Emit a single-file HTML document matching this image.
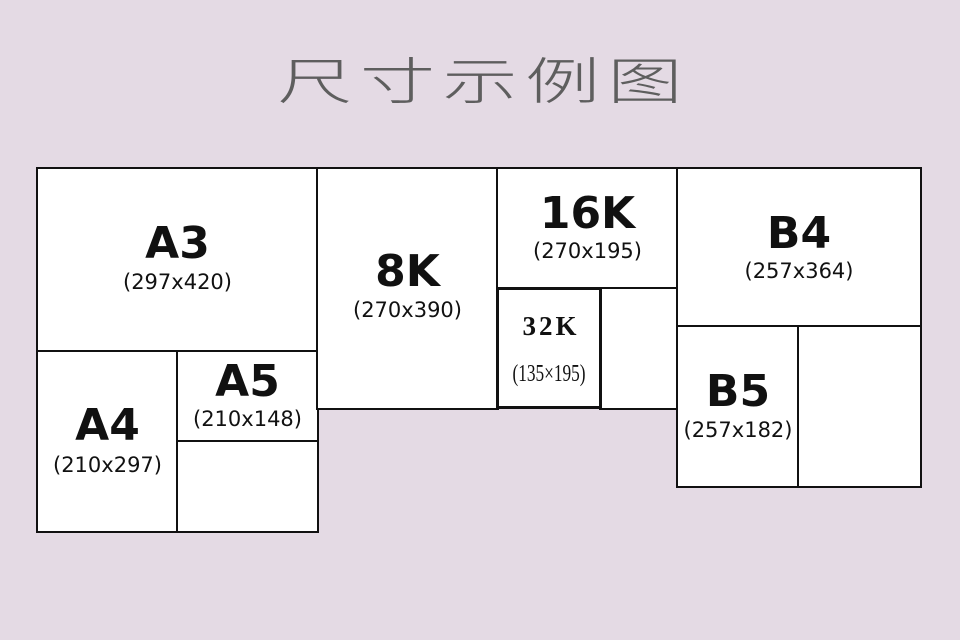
<!DOCTYPE html>
<html><head><meta charset="utf-8"><style>
body{margin:0;width:960px;height:640px;background:#e4dae4;position:relative;overflow:hidden;font-family:"DejaVu Sans","Liberation Sans",sans-serif}
.b{position:absolute;background:#fff;border:2px solid #111;box-sizing:border-box}
.t{position:absolute;text-align:center;color:#111;line-height:1;white-space:nowrap}
.big{font-size:44px;font-weight:bold}
.sm{font-size:21px}
</style></head><body>
<div class="t" style="left:0;width:960px;top:53px;font-family:'Noto Sans CJK SC',sans-serif;font-size:50px;font-weight:300;color:#5e5e5e;letter-spacing:5px;transform:scaleX(1.5);text-indent:5px">尺寸示例图</div>

<div class="b" style="left:36px;top:167px;width:283px;height:186px"></div>
<div class="b" style="left:36px;top:350px;width:143px;height:183px"></div>
<div class="b" style="left:176px;top:350px;width:143px;height:93px"></div>
<div class="b" style="left:176px;top:440px;width:143px;height:93px"></div>
<div class="b" style="left:316px;top:167px;width:183px;height:243px"></div>
<div class="b" style="left:496px;top:167px;width:183px;height:123px"></div>
<div class="b" style="left:599px;top:287px;width:80px;height:123px"></div>
<div class="b" style="left:496px;top:287px;width:106px;height:122px;border-width:3px"></div>
<div class="b" style="left:676px;top:167px;width:246px;height:161px"></div>
<div class="b" style="left:676px;top:325px;width:124px;height:163px"></div>
<div class="b" style="left:797px;top:325px;width:125px;height:163px"></div>

<div class="t big" style="left:36px;width:283px;top:222px">A3</div>
<div class="t sm" style="left:36px;width:283px;top:272px">(297x420)</div>
<div class="t big" style="left:36px;width:143px;top:404px">A4</div>
<div class="t sm" style="left:36px;width:143px;top:455px">(210x297)</div>
<div class="t big" style="left:176px;width:143px;top:360px">A5</div>
<div class="t sm" style="left:176px;width:143px;top:409px">(210x148)</div>
<div class="t big" style="left:316px;width:183px;top:250px">8K</div>
<div class="t sm" style="left:316px;width:183px;top:300px">(270x390)</div>
<div class="t big" style="left:496px;width:183px;top:192px">16K</div>
<div class="t sm" style="left:496px;width:183px;top:241px">(270x195)</div>
<div class="t" style="left:498px;width:106px;top:313px;font-family:'Liberation Serif',serif;font-weight:bold;font-size:27px;letter-spacing:3px">32K</div>
<div class="t" style="left:496px;width:106px;top:362px;font-family:'Liberation Serif',serif;font-size:24px;transform:scaleX(0.72)">(135×195)</div>
<div class="t big" style="left:676px;width:246px;top:212px">B4</div>
<div class="t sm" style="left:676px;width:246px;top:261px">(257x364)</div>
<div class="t big" style="left:676px;width:124px;top:370px">B5</div>
<div class="t sm" style="left:676px;width:124px;top:420px">(257x182)</div>
</body></html>
